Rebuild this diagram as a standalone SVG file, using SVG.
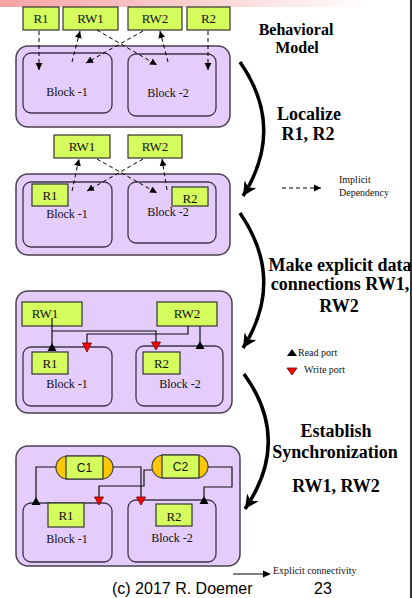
<svg xmlns="http://www.w3.org/2000/svg" width="412" height="598" viewBox="0 0 412 598">
  <defs>
    <linearGradient id="hdr" x1="0" y1="0" x2="1" y2="0">
      <stop offset="0" stop-color="#f6a3a3"/>
      <stop offset="0.5" stop-color="#fbd3d3"/>
      <stop offset="0.9" stop-color="#ffffff"/>
    </linearGradient>
    <marker id="dep" markerWidth="8" markerHeight="8" refX="7" refY="4" orient="auto" markerUnits="userSpaceOnUse">
      <path d="M0,0.5 L7,4 L0,7.5 Z" fill="#000"/>
    </marker>
    <marker id="big" markerWidth="16" markerHeight="14" refX="14" refY="7" orient="auto" markerUnits="userSpaceOnUse">
      <path d="M0,0 L14,7 L0,14 L4,7 Z" fill="#000"/>
    </marker>
    <style>
      .outer { fill: #e4ccfb; stroke: #4a4050; stroke-width: 1.5; }
      .blk { fill: #e4ccfb; stroke: #3e3448; stroke-width: 1.3; }
      .var { fill: #d6fd5e; stroke: #333; stroke-width: 1.2; }
      .lbl { font-family: "Liberation Serif", "Times New Roman", serif; font-size: 13px; fill: #111; text-anchor: middle; }
      .blbl { font-family: "Liberation Serif", "Times New Roman", serif; font-size: 12px; fill: #111; text-anchor: middle; }
      .dash { fill: none; stroke: #000; stroke-width: 1; stroke-dasharray: 4 3; marker-end: url(#dep); }
      .wire { fill: none; stroke: #111; stroke-width: 1.2; }
      .rd { fill: #000; }
      .wr { fill: #f00; stroke: #600; stroke-width: 0.8; }
      .arc { fill: none; stroke: #000; stroke-width: 3.5; marker-end: url(#big); }
      .step { font-family: "Liberation Serif", "Times New Roman", serif; font-weight: bold; font-size: 18px; fill: #000; text-anchor: middle; }
      .small { font-family: "Liberation Serif", "Times New Roman", serif; font-size: 10px; fill: #111; }
      .cap { fill: #ffc800; stroke: #444; stroke-width: 1.2; }
      .clbl { font-family: "Liberation Sans", Arial, sans-serif; font-size: 12px; fill: #111; text-anchor: middle; }
    </style>
  </defs>

  <rect width="412" height="598" fill="#fff"/>
  <rect x="0" y="0" width="412" height="7" fill="url(#hdr)"/>
  <line x1="411" y1="0" x2="411" y2="598" stroke="#000" stroke-width="1.6"/>

  <!-- Stage 1: behavioral model -->
  <g id="stage1">
    <rect class="outer" x="16" y="46" width="214" height="81" rx="12"/>
    <g id="s1-block1"><rect class="blk" x="23" y="53" width="89" height="60" rx="8"/><text class="blbl" x="67" y="96">Block -1</text></g>
    <g id="s1-block2"><rect class="blk" x="128" y="54" width="88" height="62" rx="8"/><text class="blbl" x="168" y="97">Block -2</text></g>
    <g id="s1-r1"><rect class="var" x="23" y="7" width="36" height="23"/><text class="lbl" x="41" y="23">R1</text></g>
    <g id="s1-rw1"><rect class="var" x="63" y="7" width="55" height="23"/><text class="lbl" x="90.5" y="23">RW1</text></g>
    <g id="s1-rw2"><rect class="var" x="128" y="7" width="54" height="23"/><text class="lbl" x="155" y="23">RW2</text></g>
    <g id="s1-r2"><rect class="var" x="187" y="7" width="43" height="23"/><text class="lbl" x="208.5" y="23">R2</text></g>
  </g>

  <!-- Stage 2: localized R1, R2 -->
  <g id="stage2">
    <rect class="outer" x="16" y="174" width="214" height="81" rx="12"/>
    <g id="s2-block1"><rect class="blk" x="23" y="182" width="89" height="65" rx="8"/><text class="blbl" x="67" y="218">Block -1</text></g>
    <g id="s2-block2"><rect class="blk" x="128" y="182" width="88" height="61" rx="8"/><text class="blbl" x="168" y="216">Block -2</text></g>
    <g id="s2-r1"><rect class="var" x="32" y="184" width="36" height="22"/><text class="lbl" x="50" y="200">R1</text></g>
    <g id="s2-r2"><rect class="var" x="172" y="187" width="36" height="19"/><text class="lbl" x="190" y="203">R2</text></g>
    <g id="s2-rw1"><rect class="var" x="54" y="135" width="56" height="23"/><text class="lbl" x="82" y="151">RW1</text></g>
    <g id="s2-rw2"><rect class="var" x="128" y="135" width="54" height="23"/><text class="lbl" x="155" y="151">RW2</text></g>
  </g>

  <!-- Stage 3: explicit data connections -->
  <g id="stage3">
    <rect class="outer" x="16" y="291" width="216" height="122" rx="12"/>
    <g id="s3-block1"><rect class="blk" x="23" y="347" width="89" height="59" rx="8"/><text class="blbl" x="67" y="388">Block -1</text></g>
    <g id="s3-block2"><rect class="blk" x="136" y="346" width="87" height="60" rx="8"/><text class="blbl" x="180" y="388">Block -2</text></g>
    <g id="s3-r1"><rect class="var" x="32" y="352" width="36" height="22"/><text class="lbl" x="50" y="368">R1</text></g>
    <g id="s3-r2"><rect class="var" x="143" y="352" width="37" height="22"/><text class="lbl" x="161.5" y="368">R2</text></g>
    <g id="s3-rw1"><rect class="var" x="22" y="302" width="60" height="24"/><text class="lbl" x="45" y="318">RW1</text></g>
    <g id="s3-rw2"><rect class="var" x="157" y="302" width="60" height="24"/><text class="lbl" x="187" y="318">RW2</text></g>
  </g>

  <!-- Stage 4: synchronized channels -->
  <g id="stage4">
    <rect class="outer" x="16" y="446" width="224" height="120" rx="12"/>
    <g id="s4-block1"><rect class="blk" x="23" y="503" width="89" height="59" rx="8"/><text class="blbl" x="67" y="543">Block -1</text></g>
    <g id="s4-block2"><rect class="blk" x="128" y="500" width="88" height="62" rx="8"/><text class="blbl" x="172" y="542">Block -2</text></g>
    <g id="s4-r1"><rect class="var" x="48" y="503" width="36" height="24"/><text class="lbl" x="66" y="520">R1</text></g>
    <g id="s4-r2"><rect class="var" x="156" y="504" width="36" height="22"/><text class="lbl" x="174" y="521">R2</text></g>
    <g id="s4-c1">
      <rect class="cap" x="56" y="456" width="57" height="23" rx="11.5"/>
      <rect class="var" x="66" y="456" width="37" height="23"/>
      <text class="clbl" x="84.5" y="472">C1</text>
    </g>
    <g id="s4-c2">
      <rect class="cap" x="152" y="455" width="56" height="23" rx="11.5"/>
      <rect class="var" x="162" y="455" width="37" height="23"/>
      <text class="clbl" x="180.5" y="471">C2</text>
    </g>
  </g>

  <!-- connectors -->
  <g id="connectors">
    <!-- implicit dependencies, stage 1 -->
    <path class="dash" d="M39,31 L39,70"/>
    <path class="dash" d="M72,62 L80,31"/>
    <path class="dash" d="M97,30 L157,65"/>
    <path class="dash" d="M143,31 L86,63"/>
    <path class="dash" d="M168,62 L160,31"/>
    <path class="dash" d="M208,31 L208,70"/>
    <!-- implicit dependencies, stage 2 -->
    <path class="dash" d="M72,191 L79,159"/>
    <path class="dash" d="M97,159 L157,193"/>
    <path class="dash" d="M143,159 L87,191"/>
    <path class="dash" d="M167,190 L162,159"/>

    <!-- stage 3 wires -->
    <path class="wire" d="M52,318 L52,344"/>
    <path class="wire" d="M52,331 L156,331 L156,343"/>
    <path class="wire" d="M188,326 L188,334 L87,334 L87,344"/>
    <path class="wire" d="M200,326 L200,342"/>
    <path class="rd" d="M52,343 L56.5,351 L47.5,351 Z"/>
    <path class="wr" d="M82.5,343 L91.5,343 L87,352 Z"/>
    <path class="wr" d="M151.5,342 L160.5,342 L156,350 Z"/>
    <path class="rd" d="M200,341 L204.5,349 L195.5,349 Z"/>

    <!-- stage 4 wires -->
    <path class="wire" d="M56,467 L36,467 L36,498"/>
    <path class="wire" d="M113,467 L141,467 L141,498"/>
    <path class="wire" d="M152,470 L144,470 L144,486 L99,486 L99,498"/>
    <path class="wire" d="M208,467 L232,467 L232,487 L204,487 L204,497"/>
    <path class="rd" d="M36,497 L40.5,505 L31.5,505 Z"/>
    <path class="wr" d="M136.5,497 L145.5,497 L141,505 Z"/>
    <path class="wr" d="M94.5,497 L103.5,497 L99,505 Z"/>
    <path class="rd" d="M204,496 L208.5,504 L199.5,504 Z"/>

    <!-- refinement steps -->
    <path class="arc" d="M240,62 Q286,128 243,196"/>
    <path class="arc" d="M240,213 Q286,280 243,348"/>
    <path class="arc" d="M244,374 Q292,440 245,509"/>

    <!-- legend arrows -->
    <path class="dash" d="M282,188 L321,188"/>
    <path d="M233,574 L265,574" stroke="#000" stroke-width="1"/>
    <path d="M263,570.5 L271,574 L263,577.5 Z" fill="#000"/>
  </g>

  <!-- step captions -->
  <text class="step" style="font-size:16px" x="296" y="35">Behavioral</text>
  <text class="step" style="font-size:16px" x="297" y="53">Model</text>
  <text class="step" x="309" y="120">Localize</text>
  <text class="step" x="308" y="140">R1, R2</text>
  <text class="step" x="340" y="271">Make explicit data</text>
  <text class="step" x="340" y="290">connections RW1,</text>
  <text class="step" x="339" y="312">RW2</text>
  <text class="step" x="336" y="437">Establish</text>
  <text class="step" x="335" y="458">Synchronization</text>
  <text class="step" x="336" y="492">RW1, RW2</text>

  <!-- legend -->
  <text class="small" x="339" y="183">Implicit</text>
  <text class="small" x="339" y="196">Dependency</text>
  <path class="rd" d="M292,349 L297,356 L287,356 Z"/>
  <text class="small" x="298" y="356">Read port</text>
  <path class="wr" d="M287,368 L297,368 L292,375 Z"/>
  <text class="small" x="304" y="373">Write port</text>
  <text class="small" x="273" y="574">Explicit connectivity</text>

  <!-- footer -->
  <text x="112" y="594" font-family="'Liberation Sans', Arial, sans-serif" font-size="16" fill="#000">(c) 2017 R. Doemer</text>
  <text x="323" y="594" font-family="'Liberation Sans', Arial, sans-serif" font-size="16" fill="#000" text-anchor="middle">23</text>
</svg>
